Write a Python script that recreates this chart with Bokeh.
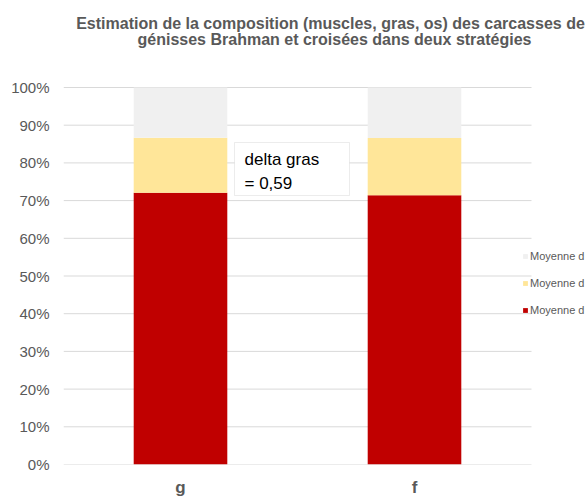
from bokeh.plotting import figure
from bokeh.models import (Label, BoxAnnotation, Legend, LegendItem,
                          NumeralTickFormatter, FixedTicker, Range1d)
from bokeh.embed import file_html
from bokeh.resources import INLINE

# ---- data ----
categories = ["g", "f"]
muscles = [0.721, 0.714]
gras = [0.146, 0.152]
os_ = [0.133, 0.134]
y_ticks = [0.0, 0.1, 0.2, 0.3, 0.4, 0.5, 0.6, 0.7, 0.8, 0.9, 1.0]
series_names = ["muscles", "gras", "os"]
legend_labels = ["Moyenne d", "Moyenne d", "Moyenne d"]
title_lines = ["Estimation de la composition (muscles, gras, os) des carcasses de",
               "génisses Brahman et croisées dans deux stratégies"]
note_text = "delta gras\n= 0,59"

FONT = "Liberation Sans"
GRAY = "#595959"
colors = ["#C00000", "#FFE699", "#F0F0F0"]

n = len(categories)
x_pos = [i + 0.5 for i in range(n)]

FW, FH = 523, 464            # frame (extends under title and legend)
p = figure(x_range=Range1d(0, n * FW / 468), y_range=Range1d(0, FH / 377),
           frame_width=FW, frame_height=FH,
           min_border_left=63, min_border_right=0,
           min_border_top=0, min_border_bottom=34,
           output_backend="svg", toolbar_location=None)
p.outline_line_color = None
p.background_fill_color = "white"
p.border_fill_color = "white"
p.xgrid.grid_line_color = None
p.ygrid.grid_line_color = None

# horizontal gridlines across the category area only
p.segment(x0=[0] * len(y_ticks), x1=[n] * len(y_ticks), y0=y_ticks, y1=y_ticks,
          line_color="#D9D9D9", line_width=1)

src = dict(x=x_pos, muscles=muscles, gras=gras, os=os_)
rs = p.vbar_stack(series_names, x="x", width=0.4, source=src,
                  color=colors, line_color=None)

# axes
p.yaxis.ticker = FixedTicker(ticks=y_ticks)
p.yaxis.formatter = NumeralTickFormatter(format="0%")
p.yaxis.axis_line_color = None
p.yaxis.major_tick_line_color = None
p.yaxis.minor_tick_line_color = None
p.yaxis.major_label_text_font = FONT
p.yaxis.major_label_text_font_size = "15px"
p.yaxis.major_label_text_color = GRAY
p.yaxis.major_label_standoff = 8

p.xaxis.ticker = FixedTicker(ticks=x_pos)
p.xaxis.major_label_overrides = {x: c for x, c in zip(x_pos, categories)}
p.xaxis.axis_line_color = None
p.xaxis.major_tick_line_color = None
p.xaxis.minor_tick_line_color = None
p.xaxis.major_tick_out = 0
p.xaxis.major_label_text_font = FONT
p.xaxis.major_label_text_font_size = "17px"
p.xaxis.major_label_text_font_style = "bold"
p.xaxis.major_label_text_color = GRAY
p.xaxis.major_label_standoff = 13

# title as two centered lines
for txt, xx, yy in zip(title_lines, [267, 271], [441, 425]):
    p.add_layout(Label(x=xx, y=yy, x_units="screen", y_units="screen",
                       text=txt, text_font=FONT, text_font_size="16px",
                       text_font_style="bold", text_color=GRAY,
                       text_align="center", text_baseline="alphabetic"))

# annotation box
p.add_layout(BoxAnnotation(left=171, right=286, top=322, bottom=269,
                           left_units="screen", right_units="screen",
                           top_units="screen", bottom_units="screen",
                           fill_color="white", fill_alpha=1.0,
                           line_color="#BFBFBF", line_width=1))
p.add_layout(Label(x=181, y=315, x_units="screen", y_units="screen",
                   text=note_text, text_font=FONT, text_font_size="17px",
                   text_color="#000000", text_align="left", text_baseline="top",
                   text_line_height=1.3))

# legend (top: os, then gras, then muscles)
items = [LegendItem(label=legend_labels[0], renderers=[rs[2]]),
         LegendItem(label=legend_labels[1], renderers=[rs[1]]),
         LegendItem(label=legend_labels[2], renderers=[rs[0]])]
leg = Legend(items=items, location=(459, 147), orientation="vertical",
             glyph_width=6, glyph_height=6, label_height=14,
             label_standoff=2, spacing=13, padding=0, margin=0,
             border_line_color=None, background_fill_alpha=0,
             label_text_font=FONT, label_text_font_size="11px",
             label_text_color=GRAY)
p.add_layout(leg, "center")

open("out.html", "w").write(file_html(p, INLINE))
